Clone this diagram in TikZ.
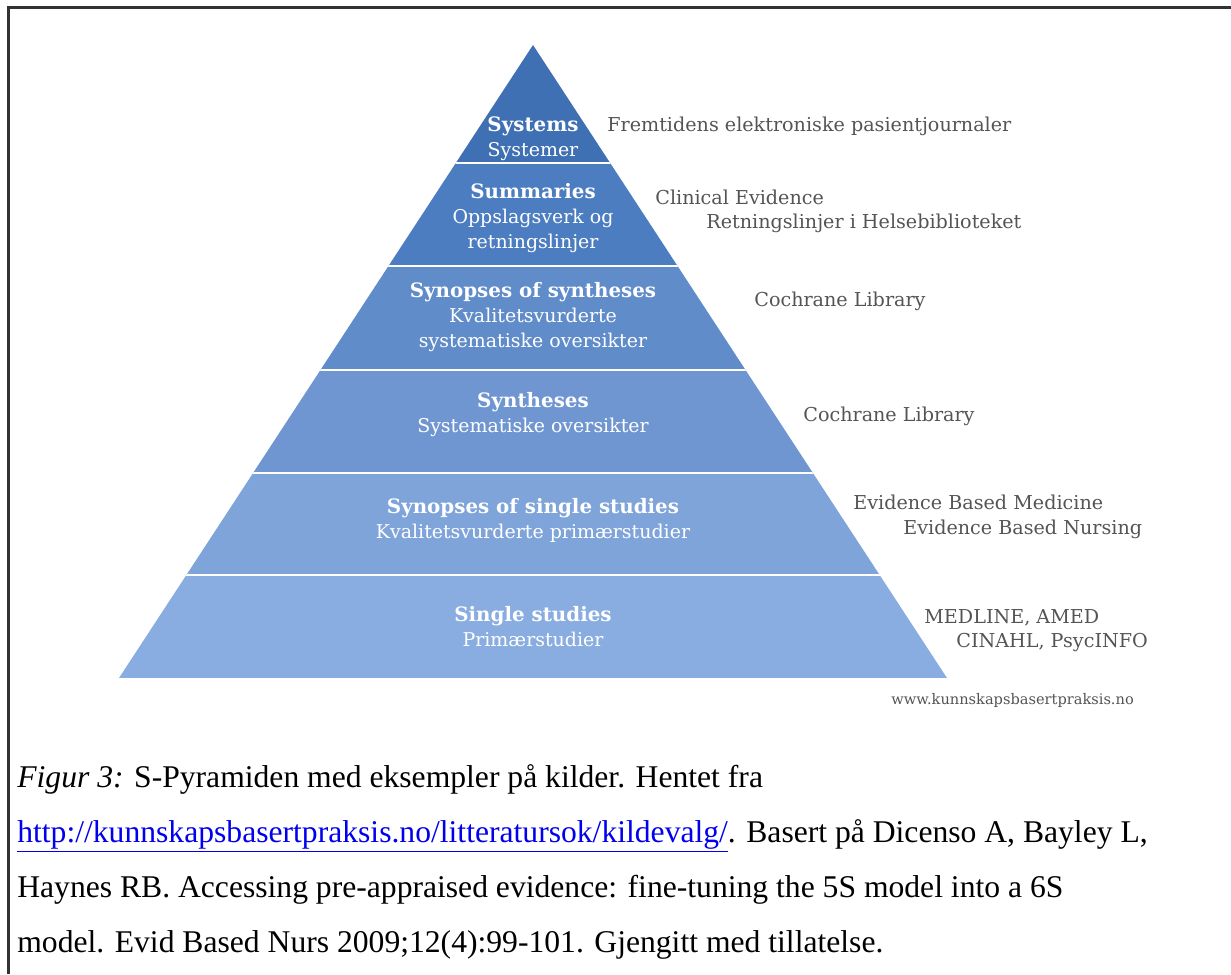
\documentclass[tikz,border=0pt]{standalone}
\usepackage{fontspec}
\setmainfont{Liberation Serif}
\newfontfamily\pyrfont{DejaVu Serif}
\definecolor{spbandA}{HTML}{3F70B4}
\definecolor{spbandB}{HTML}{4C7DC0}
\definecolor{spbandC}{HTML}{608CCA}
\definecolor{spbandD}{HTML}{7096D2}
\definecolor{spbandE}{HTML}{7EA4DA}
\definecolor{spbandF}{HTML}{89ADE0}
\definecolor{spgray}{HTML}{545454}
\definecolor{splink}{HTML}{0000EE}
\definecolor{spframe}{HTML}{333333}
\newcommand{\sptitle}[1]{{\fontsize{11.3}{14.2}\selectfont\bfseries #1}}
\tikzset{
  sp layer/.style={font=\pyrfont\fontsize{10.8}{14.2}\selectfont, text=white,
    align=center, anchor=base, inner sep=0pt},
  sp source/.style={font=\pyrfont\fontsize{10.9}{13.6}\selectfont, text=spgray,
    anchor=base west, inner sep=0pt},
  sp web/.style={font=\pyrfont\fontsize{8.3}{10}\selectfont, text=spgray,
    anchor=base west, inner sep=0pt},
  sp caption/.style={font=\fontsize{18}{31.2}\selectfont, text=black,
    align=left, anchor=base west, inner sep=0pt},
  sp divider/.style={draw=white, line width=1.2pt},
  sp frame/.style={draw=spframe, line width=1.2pt}
}

\begin{document}
\begin{tikzpicture}[x=0.02cm, y=-0.02cm]
  \useasboundingbox (0,0) rectangle (1231,974);
  \draw[sp frame] (8.5,974) |- (1231,7.5);

  % pyramid
  \coordinate (apex) at (533,45);
  \coordinate (base left) at (119,678);
  \coordinate (base right) at (947,678);
  \begin{scope}
    \clip (apex) -- (base right) -- (base left) -- cycle;
    \foreach \ytop/\ybot/\col in {45/163/spbandA, 163/266/spbandB, 266/370/spbandC,
        370/473/spbandD, 473/575/spbandE, 575/678/spbandF}
      \fill[\col] (100,\ytop) rectangle (970,\ybot);
    \foreach \ycut in {163,266,370,473,575}
      \draw[sp divider] (100,\ycut) -- (970,\ycut);
  \end{scope}

  % base anchor sits on the last line
  \node[sp layer] (systems) at (533,156) {\sptitle{Systems}\\Systemer};
  \node[sp layer] (summaries) at (533,248) {\sptitle{Summaries}\\Oppslagsverk og\\retningslinjer};
  \node[sp layer] (synsyn) at (533,347) {\sptitle{Synopses of syntheses}\\Kvalitetsvurderte\\systematiske oversikter};
  \node[sp layer] (syntheses) at (533,432) {\sptitle{Syntheses}\\Systematiske oversikter};
  \node[sp layer] (synsingle) at (533,538) {\sptitle{Synopses of single studies}\\Kvalitetsvurderte primærstudier};
  \node[sp layer] (single) at (533,646) {\sptitle{Single studies}\\Primærstudier};

  % sources
  \node[sp source] (src systems) at (607,131) {Fremtidens elektroniske pasientjournaler};
  \node[sp source] (src summaries a) at (655,204) {Clinical Evidence};
  \node[sp source] (src summaries b) at (706,228) {Retningslinjer i Helsebiblioteket};
  \node[sp source] (src synsyn) at (754,306) {Cochrane Library};
  \node[sp source] (src syntheses) at (803,421) {Cochrane Library};
  \node[sp source] (src synsingle a) at (853,509) {Evidence Based Medicine};
  \node[sp source] (src synsingle b) at (903,534) {Evidence Based Nursing};
  \node[sp source] (src single a) at (924,623) {MEDLINE, AMED};
  \node[sp source] (src single b) at (956,647) {CINAHL, PsycINFO};
  \node[sp web] (web) at (891,704) {www.kunnskapsbasertpraksis.no};

  % caption
  \node[sp caption] (caption) at (17,952) {\textit{Figur 3:} S-Pyramiden med eksempler på kilder. Hentet fra\\
    \textcolor{splink}{\underline{http://kunnskapsbasertpraksis.no/litteratursok/kildevalg/}}. Basert på Dicenso A, Bayley L,\\
    Haynes RB. Accessing pre-appraised evidence: fine-tuning the 5S model into a 6S\\
    model. Evid Based Nurs 2009;12(4):99-101. Gjengitt med tillatelse.};
\end{tikzpicture}
\end{document}
